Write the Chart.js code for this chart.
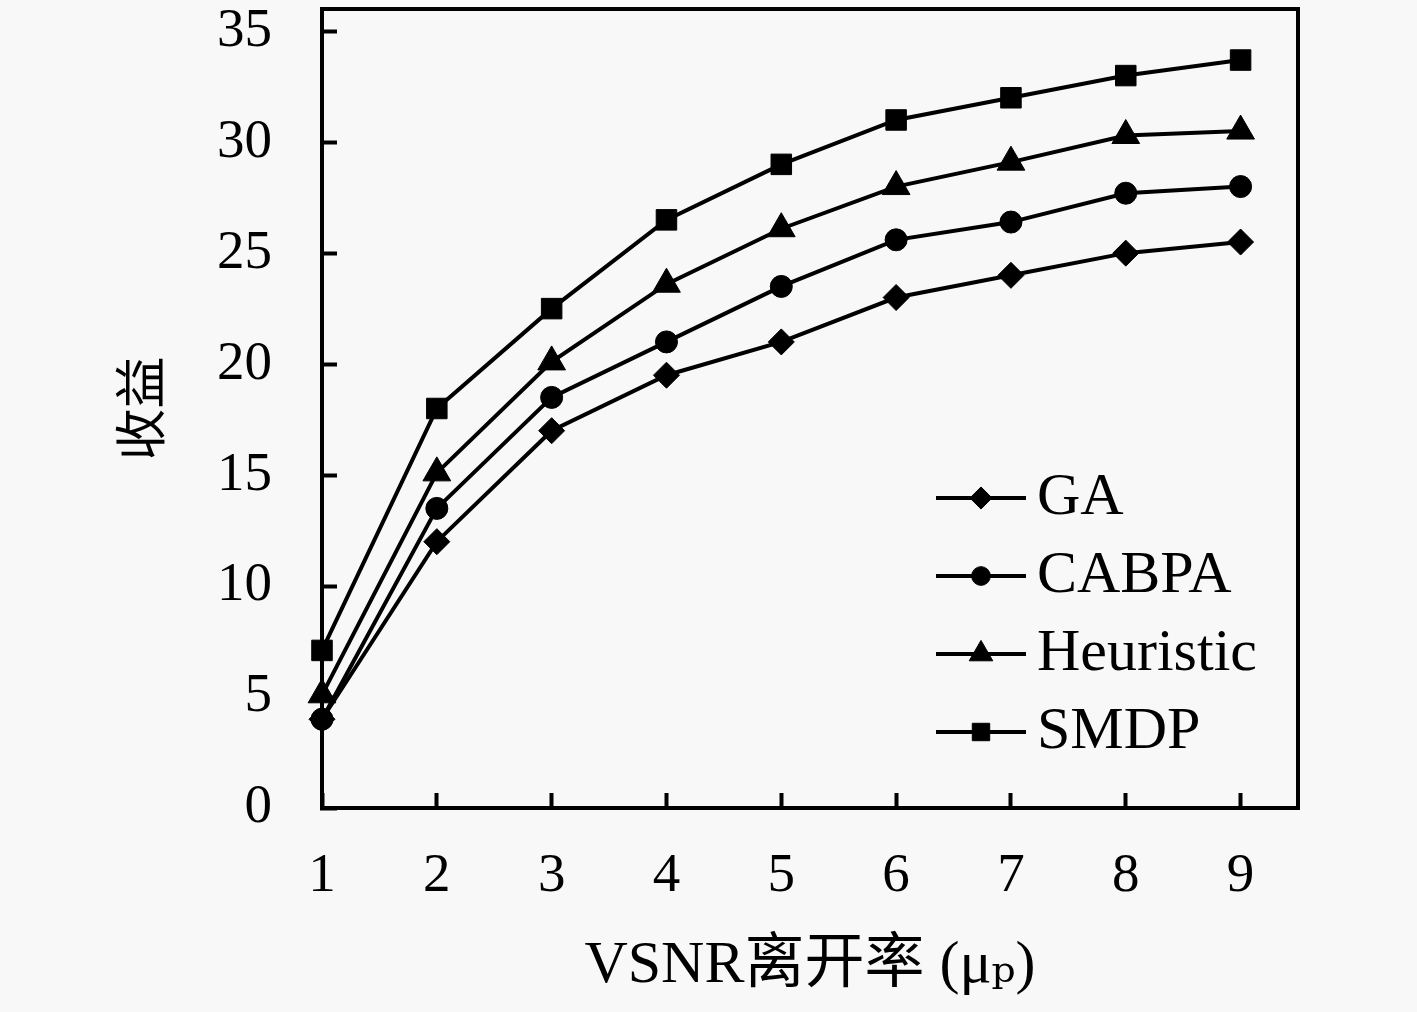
<!DOCTYPE html>
<html><head><meta charset="utf-8">
<script src="https://cdn.jsdelivr.net/npm/chart.js@4"></script>
<style>html,body{margin:0;padding:0;background:#f8f8f8;overflow:hidden;} #wrap{width:1417px;height:1012px;}</style>
</head><body><div id="wrap"><canvas id="c" width="1417" height="1012"></canvas></div>
<script>
const xValues = [1, 2, 3, 4, 5, 6, 7, 8, 9];
const gaValues = [4, 12, 17, 19.5, 21, 23, 24, 25, 25.5];
const cabpaValues = [4, 13.5, 18.5, 21, 23.5, 25.6, 26.4, 27.7, 28];
const heuristicValues = [5.1, 15.1, 20.1, 23.6, 26.1, 28, 29.1, 30.3, 30.5];
const smdpValues = [7.1, 18, 22.5, 26.5, 29, 31, 32, 33, 33.7];
const seriesNames = ['GA', 'CABPA', 'Heuristic', 'SMDP'];
const xTitle = 'VSNR离开率 (μₚ)';
const yTitle = '收益';

const serif = "'Liberation Serif', 'DejaVu Serif', 'Noto Sans CJK SC', serif";
const styles = [
  {pointStyle: 'rectRot', radius: 13},
  {pointStyle: 'circle', radius: 11},
  {pointStyle: 'triangle', radius: 16},
  {pointStyle: 'rect', radius: 14.5}
];
const seriesValues = [gaValues, cabpaValues, heuristicValues, smdpValues];

const datasets = seriesNames.map((name, i) => ({
  label: name,
  data: xValues.map((x, j) => ({x: x, y: seriesValues[i][j]})),
  borderColor: '#000',
  backgroundColor: '#000',
  borderWidth: 4,
  pointStyle: styles[i].pointStyle,
  pointRadius: styles[i].radius,
  pointHoverRadius: styles[i].radius,
  pointBorderWidth: 1,
  pointBackgroundColor: '#000',
  pointBorderColor: '#000',
  tension: 0,
  clip: false
}));

const bgPlugin = {
  id: 'bg',
  beforeDraw(chart) {
    const ctx = chart.ctx;
    ctx.save();
    ctx.fillStyle = '#f8f8f8';
    ctx.fillRect(0, 0, chart.width, chart.height);
    ctx.restore();
  }
};

const framePlugin = {
  id: 'frame',
  afterDraw(chart) {
    const a = chart.chartArea, ctx = chart.ctx;
    ctx.save();
    ctx.strokeStyle = '#000';
    ctx.lineWidth = 4;
    ctx.beginPath();
    ctx.moveTo(a.left - 2, a.top);
    ctx.lineTo(a.right, a.top);
    ctx.lineTo(a.right, a.bottom + 2);
    ctx.stroke();
    ctx.restore();
  }
};

const legendPlugin = {
  id: 'lineLegend',
  afterDraw(chart) {
    const a = chart.chartArea, ctx = chart.ctx;
    ctx.save();
    chart.data.datasets.forEach((ds, i) => {
      const y = a.top + 489 + i * 78;
      const x0 = a.left + 614, x1 = a.left + 704, xm = a.left + 659;
      ctx.strokeStyle = '#000';
      ctx.lineWidth = 4;
      ctx.beginPath();
      ctx.moveTo(x0, y);
      ctx.lineTo(x1, y);
      ctx.stroke();
      ctx.fillStyle = '#000';
      ctx.lineWidth = 1;
      Chart.helpers.drawPoint(ctx, {pointStyle: ds.pointStyle, radius: ds.pointRadius * 0.85, rotation: 0, borderWidth: 1}, xm, y);
      ctx.font = "60px " + serif;
      ctx.textBaseline = 'alphabetic';
      ctx.textAlign = 'left';
      ctx.fillText(ds.label, a.left + 715, y + 16);
    });
    ctx.restore();
  }
};

new Chart(document.getElementById('c'), {
  type: 'line',
  data: {datasets: datasets},
  plugins: [bgPlugin, framePlugin, legendPlugin],
  options: {
    responsive: false,
    animation: false,
    devicePixelRatio: 1,
    layout: {autoPadding: false, padding: {left: 0, right: 119, top: 9, bottom: 0}},
    plugins: {legend: {display: false}, tooltip: {enabled: false}},
    scales: {
      x: {
        type: 'linear',
        min: 1,
        max: 9.5,
        ticks: {stepSize: 1, includeBounds: false, padding: 51, color: '#000', font: {family: serif, size: 55}, maxRotation: 0},
        grid: {drawOnChartArea: false, drawTicks: true, tickLength: -15, tickWidth: 4, tickColor: '#000'},
        border: {display: true, width: 4, color: '#000'},
        title: {display: true, text: xTitle, color: '#000', font: {family: serif, size: 60}, padding: {top: 0, bottom: 10}},
        afterFit(s) { s.height = 204; s.paddingLeft = 0; s.paddingRight = 0; }
      },
      y: {
        type: 'linear',
        min: 0,
        max: 36,
        ticks: {stepSize: 5, includeBounds: false, padding: 65, color: '#000', font: {family: serif, size: 55}},
        grid: {drawOnChartArea: false, drawTicks: true, tickLength: -15, tickWidth: 4, tickColor: '#000'},
        border: {display: true, width: 4, color: '#000'},
        title: {display: true, text: yTitle, color: '#000', font: {family: "'Noto Sans CJK SC', sans-serif", size: 52}, padding: {top: 109, bottom: 0}},
        afterFit(s) { s.width = 322; s.paddingTop = 0; s.paddingBottom = 0; }
      }
    }
  }
});
</script>
</body></html>
